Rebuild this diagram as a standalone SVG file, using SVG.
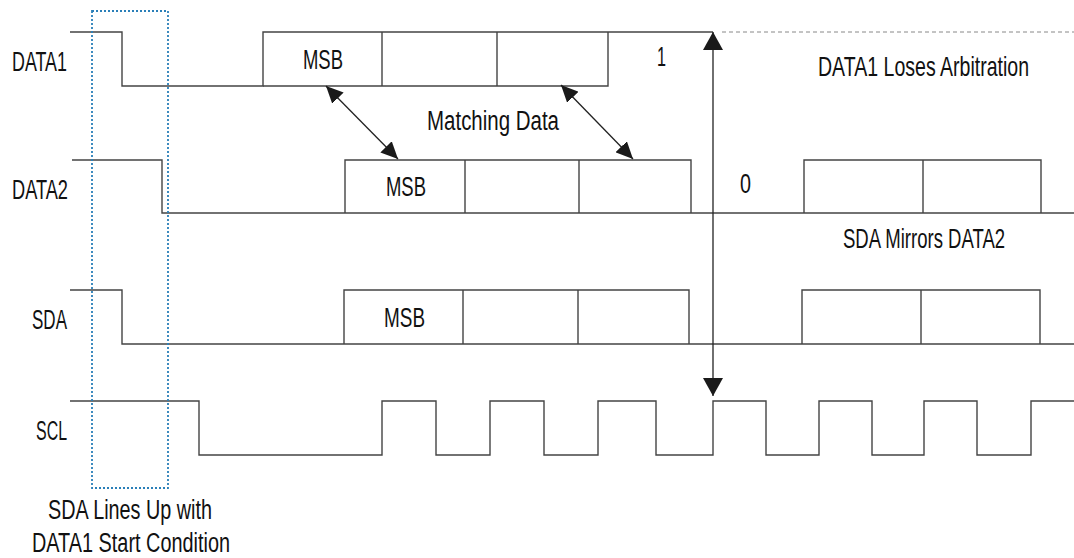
<svg xmlns="http://www.w3.org/2000/svg" width="1074" height="558" viewBox="0 0 1074 558">
<style>
.w{fill:none;stroke:#444;stroke-width:1.4}
.t{font-family:"Liberation Sans",Arial,sans-serif;font-size:27px;fill:#111}
.c{fill:none;stroke:#222;stroke-width:1.3}
</style>
<defs>
<marker id="ah" markerUnits="userSpaceOnUse" markerWidth="18" markerHeight="20" refX="18" refY="10" orient="auto-start-reverse">
<path d="M0,0 L18,10 L0,20 z" fill="#1a1a1a"/>
</marker>
<marker id="ahs" markerUnits="userSpaceOnUse" markerWidth="17" markerHeight="16" refX="17" refY="8" orient="auto-start-reverse">
<path d="M0,0 L17,8 L0,16 z" fill="#1a1a1a"/>
</marker>
</defs>
<rect width="1074" height="558" fill="#fff"/>

<g id="data1">
<text class="t" x="12" y="71" textLength="55" lengthAdjust="spacingAndGlyphs">DATA1</text>
<path class="w" d="M70,32 H122 V86 H263 V32 H713"/>
<path class="w" d="M263,86 H608 V32 M382,32 V86 M497,32 V86"/>
<text class="t" x="303" y="69" textLength="40" lengthAdjust="spacingAndGlyphs">MSB</text>
<text class="t" x="657" y="66" textLength="9" lengthAdjust="spacingAndGlyphs">1</text>
<path d="M722,32 H1074" fill="none" stroke="#888" stroke-width="1" stroke-dasharray="4,3"/>
<text class="t" transform="translate(818,76) scale(0.724,1)" x="0" y="0">DATA1 Loses Arbitration</text>
</g>

<g id="data2">
<text class="t" x="12" y="199" textLength="56" lengthAdjust="spacingAndGlyphs">DATA2</text>
<path class="w" d="M72,160 H162 V213 H1074"/>
<path class="w" d="M345,213 V160 H691 V213 M465,160 V213 M579,160 V213"/>
<path class="w" d="M804,213 V160 H1041 V213 M923,160 V213"/>
<text class="t" x="386" y="196" textLength="40" lengthAdjust="spacingAndGlyphs">MSB</text>
<text class="t" x="740" y="193" textLength="11" lengthAdjust="spacingAndGlyphs">0</text>
<text class="t" transform="translate(843,248) scale(0.687,1)" x="0" y="0">SDA Mirrors DATA2</text>
</g>

<g id="sda">
<text class="t" x="32" y="329" textLength="35" lengthAdjust="spacingAndGlyphs">SDA</text>
<path class="w" d="M70,290 H122 V344 H1074"/>
<path class="w" d="M344,344 V290 H689 V344 M463,290 V344 M578,290 V344"/>
<path class="w" d="M802,344 V290 H1040 V344 M921,290 V344"/>
<text class="t" x="384" y="327" textLength="41" lengthAdjust="spacingAndGlyphs">MSB</text>
</g>

<g id="scl">
<text class="t" x="36" y="440" textLength="31" lengthAdjust="spacingAndGlyphs">SCL</text>
<path class="w" d="M70,401 H199 V455 H382 V401 H436 V455 H490 V401 H544 V455 H598 V401 H656 V455 H713 V401 H766 V455 H819 V401 H872 V455 H924 V401 H977 V455 H1031 V401 H1074"/>
</g>

<g id="start-window">
<rect x="92" y="11" width="76" height="477" fill="none" stroke="#2a7fb8" stroke-width="1.8" stroke-dasharray="2,2"/>
<text class="t" x="48" y="519" textLength="164" lengthAdjust="spacingAndGlyphs">SDA Lines Up with</text>
<text class="t" x="32" y="552" textLength="198" lengthAdjust="spacingAndGlyphs">DATA1 Start Condition</text>
</g>

<g id="matching-label">
<text class="t" x="427" y="130" textLength="132" lengthAdjust="spacingAndGlyphs">Matching Data</text>
</g>

<g id="connectors">
<line class="c" x1="713" y1="32" x2="713" y2="396" marker-start="url(#ah)" marker-end="url(#ah)"/>
<line class="c" x1="326" y1="86" x2="398" y2="159" marker-start="url(#ahs)" marker-end="url(#ahs)"/>
<line class="c" x1="561" y1="85" x2="633" y2="159" marker-start="url(#ahs)" marker-end="url(#ahs)"/>
</g>
</svg>
